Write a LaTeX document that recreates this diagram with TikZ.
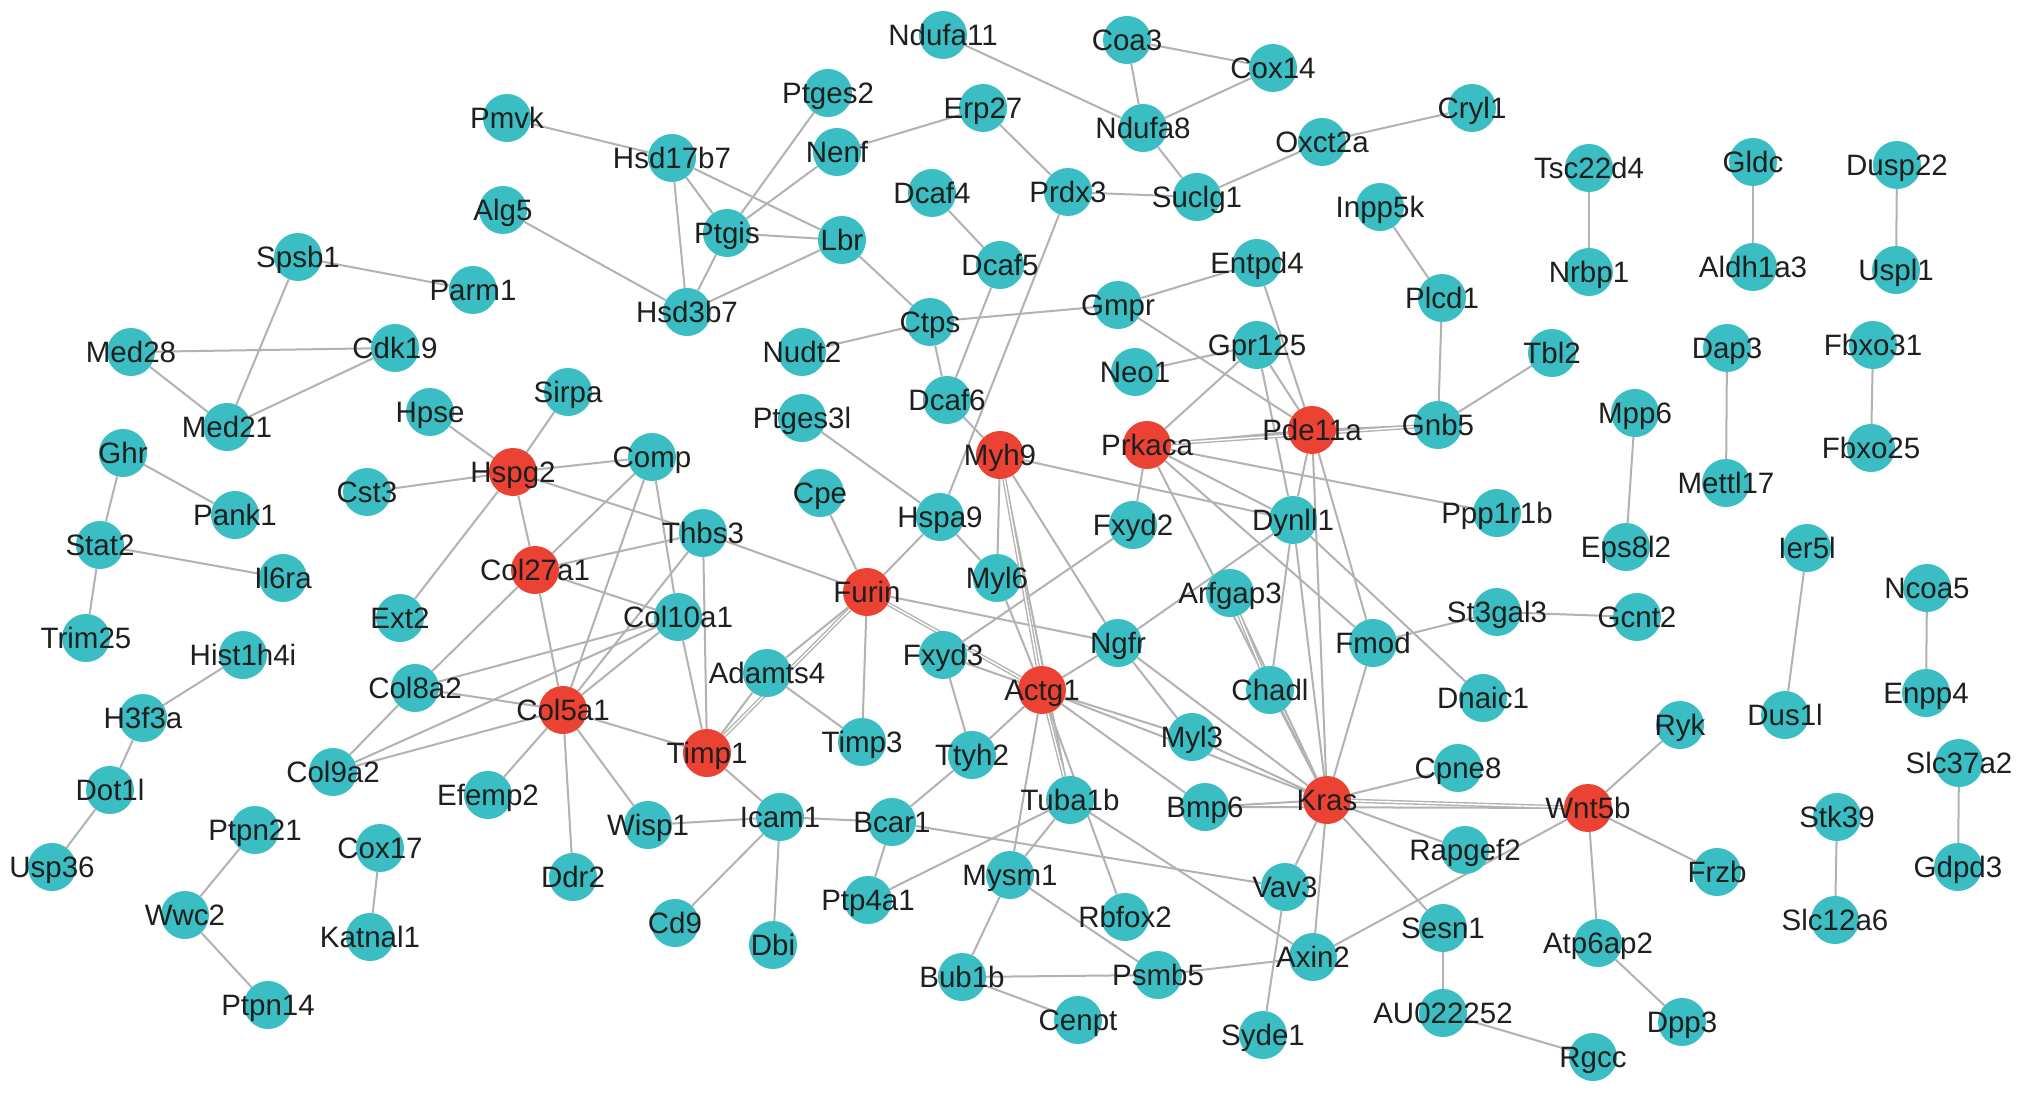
\documentclass[tikz,border=0pt]{standalone}
\usepackage{fontspec}
\setmainfont{Liberation Sans}
\definecolor{ndteal}{RGB}{58,190,195}
\definecolor{ndred}{RGB}{236,66,52}
\definecolor{edgegray}{RGB}{178,178,178}
\pgfdeclarelayer{bg}
\pgfdeclarelayer{edges}
\pgfsetlayers{bg,edges,main}
\tikzset{
  gn/.style={circle, fill=ndteal, minimum size=48pt, inner sep=0pt},
  rn/.style={circle, fill=ndred, minimum size=48pt, inner sep=0pt},
  lab/.style={font=\fontsize{29.5}{31}\selectfont, text=black!88, inner sep=0pt, text height=21pt, text depth=0pt},
  ed/.style={draw=edgegray, line width=2pt},
  dbl/.style={draw=edgegray, line width=1.4pt, double=white, double distance=1.4pt},
}
\begin{document}
\begin{tikzpicture}[x=1pt,y=-1pt]
\begin{pgfonlayer}{bg}
\fill[white] (0,0) rectangle (2031,1094);
\end{pgfonlayer}
\useasboundingbox (0,0) rectangle (2031,1094);
% teal nodes
\foreach \n/\x/\y in {
Pmvk/507/118, Alg5/503/210, Spsb1/298/257, Parm1/473/290, Med28/131/352, Cdk19/395/348,
Ndufa11/943/35, Ptges2/828/93, Erp27/983/108, Hsd17b7/672/158, Nenf/837/152, Dcaf4/932/193,
Ptgis/727/233, Lbr/842/240, Dcaf5/1000/265, Hsd3b7/687/312, Ctps/930/322, Nudt2/802/352,
Coa3/1127/40, Cox14/1273/68, Ndufa8/1143/128, Cryl1/1472/108, Oxct2a/1322/142, Prdx3/1068/192,
Suclg1/1197/197, Inpp5k/1380/207, Entpd4/1257/263, Gmpr/1118/305, Plcd1/1442/298, Gpr125/1257/345,
Neo1/1135/372, Tsc22d4/1589/168, Nrbp1/1589/272, Gldc/1753/162, Aldh1a3/1753/267, Dusp22/1897/165,
Uspl1/1896/270, Tbl2/1552/353, Dap3/1727/348, Fbxo31/1873/345, Med21/227/427, Hpse/430/412,
Ghr/123/453, Cst3/367/492, Pank1/235/515, Stat2/100/545, Il6ra/283/578, Ext2/400/618,
Trim25/86/638, Hist1h4i/243/655, Col8a2/415/688, H3f3a/143/718, Sirpa/568/392, Dcaf6/947/400,
Ptges3l/802/418, Comp/652/457, Cpe/820/493, Hspa9/940/517, Thbs3/703/533, Myl6/997/578,
Col10a1/678/617, Fxyd3/943/655, Adamts4/767/673, Timp3/862/742, Ttyh2/972/755,
Gnb5/1438/425, Fxyd2/1133/525, Dynll1/1293/520, Ppp1r1b/1497/513, Arfgap3/1230/593,
St3gal3/1497/612, Ngfr/1118/643, Fmod/1373/643, Chadl/1270/690, Dnaic1/1483/698, Myl3/1192/737,
Mpp6/1635/413, Mettl17/1726/483, Fbxo25/1871/448, Eps8l2/1626/547, Ier5l/1807/548, Ncoa5/1927/588,
Gcnt2/1637/617, Enpp4/1926/693, Dus1l/1785/715, Ryk/1680/725, Col9a2/333/772, Dot1l/110/790,
Efemp2/488/795, Ptpn21/255/830, Cox17/380/848, Usp36/52/867, Wwc2/185/915, Katnal1/370/937,
Ptpn14/268/1005, Wisp1/648/825, Icam1/780/817, Bcar1/892/822, Ddr2/573/877, Ptp4a1/868/900,
Mysm1/1010/875, Cd9/675/923, Dbi/773/945, Bub1b/962/977, Tuba1b/1070/800, Bmp6/1205/807,
Cpne8/1458/768, Rapgef2/1465/850, Vav3/1285/887, Rbfox2/1125/917, Sesn1/1443/928, Axin2/1313/957,
Psmb5/1158/975, AU022252/1443/1013, Cenpt/1078/1020, Syde1/1263/1035, Slc37a2/1959/763,
Stk39/1837/817, Frzb/1717/872, Gdpd3/1958/867, Slc12a6/1835/920, Atp6ap2/1598/943,
Dpp3/1682/1022, Rgcc/1593/1057}
  \node[gn] (\n) at (\x,\y) {};
% red nodes
\foreach \n/\x/\y in {
Hspg2/513/472, Col27a1/535/570, Col5a1/563/710, Timp1/707/753, Furin/867/592, Myh9/1000/455,
Actg1/1042/690, Prkaca/1147/445, Pde11a/1312/430, Kras/1327/800, Wnt5b/1588/808}
  \node[rn] (\n) at (\x,\y) {};
% edges
\begin{pgfonlayer}{edges}
\foreach \a/\b in {
Pmvk/Hsd17b7, Alg5/Hsd3b7, Spsb1/Parm1, Spsb1/Med21, Med28/Cdk19, Med28/Med21, Cdk19/Med21,
Ndufa11/Ndufa8, Coa3/Cox14, Coa3/Ndufa8, Cox14/Ndufa8, Ndufa8/Suclg1, Prdx3/Suclg1, Suclg1/Oxct2a,
Oxct2a/Cryl1, Ptges2/Ptgis, Nenf/Ptgis, Nenf/Erp27, Erp27/Prdx3, Hsd17b7/Ptgis, Hsd17b7/Lbr,
Hsd17b7/Hsd3b7, Ptgis/Lbr, Ptgis/Hsd3b7, Lbr/Hsd3b7, Lbr/Ctps, Dcaf4/Dcaf5, Dcaf5/Dcaf6,
Ctps/Nudt2, Ctps/Gmpr, Ctps/Dcaf6, Dcaf6/Myh9, Prdx3/Hspa9, Gmpr/Entpd4, Gmpr/Pde11a,
Entpd4/Pde11a, Gpr125/Neo1, Gpr125/Prkaca, Gpr125/Pde11a, Gpr125/Dynll1, Inpp5k/Plcd1,
Plcd1/Gnb5, Tbl2/Gnb5, Tsc22d4/Nrbp1, Gldc/Aldh1a3, Dusp22/Uspl1, Dap3/Mettl17, Fbxo31/Fbxo25,
Mpp6/Eps8l2, St3gal3/Gcnt2, Ier5l/Dus1l, Ncoa5/Enpp4, Stk39/Slc12a6, Slc37a2/Gdpd3,
Hpse/Hspg2, Sirpa/Hspg2, Cst3/Hspg2, Hspg2/Ext2, Hspg2/Comp, Hspg2/Thbs3, Thbs3/Furin,
Hspg2/Col27a1, Ghr/Pank1, Ghr/Stat2, Stat2/Il6ra, Stat2/Trim25, Hist1h4i/H3f3a, H3f3a/Dot1l,
Dot1l/Usp36, Ptpn21/Wwc2, Wwc2/Ptpn14, Cox17/Katnal1, Comp/Col27a1, Comp/Col5a1, Comp/Col10a1,
Col10a1/Timp1, Col27a1/Thbs3, Col27a1/Col10a1, Col27a1/Col5a1, Col27a1/Col8a2, Thbs3/Timp1,
Thbs3/Col5a1, Col8a2/Col10a1, Col8a2/Col5a1, Col8a2/Col9a2, Col9a2/Col10a1, Col9a2/Col5a1,
Col10a1/Col5a1, Col5a1/Efemp2, Col5a1/Ddr2, Col5a1/Wisp1, Col5a1/Timp1, Furin/Cpe, Furin/Hspa9,
Furin/Timp3, Furin/Adamts4, Furin/Ngfr, Adamts4/Timp1, Adamts4/Timp3, Ptges3l/Hspa9,
Hspa9/Myl6, Fxyd2/Fxyd3, Fxyd3/Ttyh2, Fxyd3/Actg1, Prkaca/Fxyd2, Timp1/Icam1, Icam1/Wisp1,
Icam1/Bcar1, Icam1/Cd9, Icam1/Dbi, Bcar1/Ttyh2, Bcar1/Ptp4a1, Bcar1/Vav3, Ttyh2/Actg1,
Ptp4a1/Tuba1b, Myh9/Myl6, Myh9/Tuba1b, Myh9/Ngfr, Myh9/Dynll1, Myl6/Actg1, Prkaca/Pde11a,
Pde11a/Gnb5, Prkaca/Ppp1r1b, Prkaca/Dynll1, Prkaca/Fmod, Prkaca/Kras, Arfgap3/Kras,
Pde11a/Dynll1, Pde11a/Kras, Pde11a/Fmod, Dynll1/Chadl, Dynll1/Kras, Dynll1/Dnaic1, Dynll1/Ngfr,
Fmod/St3gal3, Fmod/Kras, Chadl/Kras, Ngfr/Actg1, Ngfr/Myl3, Ngfr/Kras, Actg1/Myl3, Actg1/Kras,
Actg1/Bmp6, Actg1/Mysm1, Actg1/Rbfox2, Myl3/Kras, Bmp6/Kras, Bmp6/Wnt5b, Tuba1b/Mysm1,
Tuba1b/Axin2, Mysm1/Psmb5, Mysm1/Bub1b, Bub1b/Psmb5, Bub1b/Cenpt, Psmb5/Axin2, Kras/Cpne8,
Kras/Rapgef2, Kras/Vav3, Kras/Axin2, Kras/Sesn1, Vav3/Syde1, Wnt5b/Axin2, Wnt5b/Ryk,
Wnt5b/Frzb, Wnt5b/Atp6ap2, Atp6ap2/Dpp3, Sesn1/AU022252, AU022252/Rgcc}
  \draw[ed] (\a) -- (\b);
\foreach \a/\b in {Furin/Timp1, Furin/Actg1, Myh9/Actg1, Actg1/Tuba1b, Arfgap3/Chadl, Prkaca/Gnb5, Kras/Wnt5b}
  \draw[dbl] (\a) -- (\b);
\end{pgfonlayer}
% labels
\foreach \n in {
Pmvk, Alg5, Spsb1, Parm1, Med28, Cdk19, Ndufa11, Ptges2, Erp27, Hsd17b7, Nenf, Dcaf4,
Ptgis, Lbr, Dcaf5, Hsd3b7, Ctps, Nudt2, Coa3, Cox14, Ndufa8, Cryl1, Oxct2a, Prdx3,
Suclg1, Inpp5k, Entpd4, Gmpr, Plcd1, Gpr125, Neo1, Tsc22d4, Nrbp1, Gldc, Aldh1a3, Dusp22,
Uspl1, Tbl2, Dap3, Fbxo31, Med21, Hpse, Ghr, Cst3, Pank1, Stat2, Il6ra, Ext2,
Trim25, Hist1h4i, Col8a2, H3f3a, Sirpa, Dcaf6, Ptges3l, Comp, Cpe, Hspa9, Thbs3, Myl6,
Col10a1, Fxyd3, Adamts4, Timp3, Ttyh2, Gnb5, Fxyd2, Dynll1, Ppp1r1b, Arfgap3,
St3gal3, Ngfr, Fmod, Chadl, Dnaic1, Myl3, Mpp6, Mettl17, Fbxo25, Eps8l2, Ier5l, Ncoa5,
Gcnt2, Enpp4, Dus1l, Ryk, Col9a2, Dot1l, Efemp2, Ptpn21, Cox17, Usp36, Wwc2, Katnal1,
Ptpn14, Wisp1, Icam1, Bcar1, Ddr2, Ptp4a1, Mysm1, Cd9, Dbi, Bub1b, Tuba1b, Bmp6,
Cpne8, Rapgef2, Vav3, Rbfox2, Sesn1, Axin2, Psmb5, AU022252, Cenpt, Syde1, Slc37a2,
Stk39, Frzb, Gdpd3, Slc12a6, Atp6ap2, Dpp3, Rgcc,
Hspg2, Col27a1, Col5a1, Timp1, Furin, Myh9, Actg1, Prkaca, Pde11a, Kras, Wnt5b}
  \node[lab] (\n-t) at (\n) {\n};
\end{tikzpicture}
\end{document}
